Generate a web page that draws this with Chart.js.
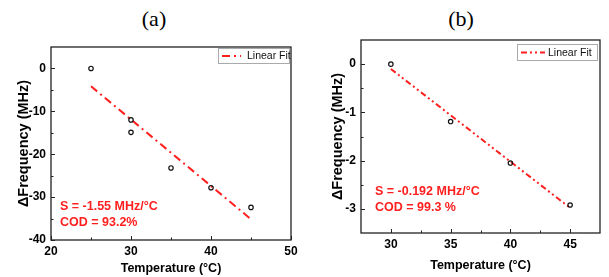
<!DOCTYPE html>
<html>
<head>
<meta charset="utf-8">
<script src="https://cdn.jsdelivr.net/npm/chart.js@4"></script>
<style>
  body { margin: 0; background: #fff; }
  #wrap { position: relative; width: 609px; height: 277px; overflow: hidden; }
  .panel { position: absolute; top: 0; height: 277px; }
  .lbl { position: absolute; top: 6px; font: 22px "Liberation Serif", "Times New Roman", serif; color: #000; transform: translateX(-50%); }
</style>
</head>
<body>
<div id="wrap">
  <div class="lbl" style="left:154px">(a)</div>
  <div class="lbl" style="left:461px">(b)</div>
  <div class="panel" style="left:0;width:305px"><canvas id="chartA" width="305" height="277"></canvas></div>
  <div class="panel" style="left:305px;width:304px"><canvas id="chartB" width="304" height="277"></canvas></div>
</div>
<script>
// panel (a)
const tempA = [25, 30, 30, 35, 40, 45];
const freqA = [0, -12, -14.9, -23.2, -27.8, -32.4];
const fitXA = [25, 45];
const fitYA = [-4.15, -35.15];
const xTicksA = [20, 30, 40, 50];
const xMinorA = [25, 35, 45];
const yTicksA = [0, -10, -20, -30, -40];
const yMinorA = [-5, -15, -25, -35];
const noteA = ["S = -1.55 MHz/°C", "COD = 93.2%"];

// panel (b)
const tempB = [30, 35, 40, 45];
const freqB = [0, -1.19, -2.05, -2.92];
const fitXB = [30, 45];
const fitYB = [-0.1, -2.98];
const xTicksB = [30, 35, 40, 45];
const xMinorB = [32.5, 37.5, 42.5];
const yTicksB = [0, -1, -2, -3];
const yMinorB = [-0.5, -1.5, -2.5];
const noteB = ["S = -0.192 MHz/°C", "COD = 99.3 %"];

Chart.defaults.font.family = '"Liberation Sans", Arial, sans-serif';
Chart.defaults.color = "#000";

const RED = "#ff1f1f";

// frame, inward ticks, legend and the red notes
const extras = {
  id: "extras",
  afterDraw(chart, args, o) {
    const ctx = chart.ctx;
    const a = chart.chartArea;
    const xs = chart.scales.x, ys = chart.scales.y;
    ctx.save();
    ctx.strokeStyle = "#222";
    ctx.lineWidth = 1.3;
    ctx.strokeRect(a.left, a.top, a.right - a.left, a.bottom - a.top);
    ctx.lineWidth = 1;
    ctx.beginPath();
    o.xMajor.forEach(v => { const p = Math.round(xs.getPixelForValue(v)) + 0.5; ctx.moveTo(p, a.bottom); ctx.lineTo(p, a.bottom - 4); });
    o.xMinor.forEach(v => { const p = Math.round(xs.getPixelForValue(v)) + 0.5; ctx.moveTo(p, a.bottom); ctx.lineTo(p, a.bottom - 2.5); });
    o.yMajor.forEach(v => { const p = Math.round(ys.getPixelForValue(v)) + 0.5; ctx.moveTo(a.left, p); ctx.lineTo(a.left + 4, p); });
    o.yMinor.forEach(v => { const p = Math.round(ys.getPixelForValue(v)) + 0.5; ctx.moveTo(a.left, p); ctx.lineTo(a.left + 2.5, p); });
    ctx.stroke();

    // legend
    const lg = o.legend;
    ctx.strokeStyle = "#aaa";
    ctx.lineWidth = 1;
    ctx.strokeRect(lg.x + 0.5, lg.y + 0.5, lg.w, lg.h);
    const ds = chart.data.datasets[1];
    ctx.strokeStyle = ds.borderColor;
    ctx.lineWidth = 2;
    ctx.setLineDash(ds.borderDash);
    ctx.beginPath();
    ctx.moveTo(lg.x + 4, lg.y + lg.h / 2 + 0.5);
    ctx.lineTo(lg.x + 4 + lg.sample, lg.y + lg.h / 2 + 0.5);
    ctx.stroke();
    ctx.setLineDash([]);
    ctx.fillStyle = "#111";
    ctx.font = '10.5px "Liberation Sans", Arial, sans-serif';
    ctx.textBaseline = "middle";
    ctx.fillText(ds.label, lg.x + 6 + lg.sample + lg.gap, lg.y + lg.h / 2 + 1);

    // notes
    ctx.fillStyle = RED;
    ctx.font = 'bold 12.5px "Liberation Sans", Arial, sans-serif';
    o.note.forEach((t, i) => ctx.fillText(t, o.noteX, o.noteY + i * 15.5));
    ctx.restore();
  }
};

function makeChart(id, d) {
  new Chart(document.getElementById(id), {
    type: "scatter",
    data: {
      datasets: [
        {
          label: "data",
          data: d.tx.map((t, i) => ({ x: t, y: d.fy[i] })),
          pointRadius: 2.2,
          pointBorderWidth: 1.2,
          pointBorderColor: "#111",
          pointBackgroundColor: "rgba(0,0,0,0)",
          showLine: false,
        },
        {
          label: "Linear Fit",
          data: d.fx.map((t, i) => ({ x: t, y: d.fitY[i] })),
          showLine: true,
          borderColor: RED,
          borderWidth: 2,
          borderDash: d.dash,
          pointRadius: 0,
        },
      ],
    },
    options: {
      responsive: false,
      animation: false,
      events: [],
      layout: { padding: { top: d.top, right: d.right, left: 0, bottom: 0 } },
      plugins: {
        legend: { display: false },
        tooltip: { enabled: false },
        extras: d.extras,
      },
      scales: {
        x: {
          type: "linear",
          min: d.xMin,
          max: d.xMax,
          afterBuildTicks: (s) => { s.ticks = d.xTicks.map(v => ({ value: v })); },
          afterFit: (s) => { s.height = d.xH; },
          grid: { display: false, drawTicks: false, tickLength: 0 },
          border: { display: false },
          ticks: { font: { size: 12, weight: "bold" }, padding: 4, maxRotation: 0 },
          title: {
            display: true,
            text: "Temperature (°C)",
            font: { size: 12.5, weight: "bold" },
            padding: { top: 0, bottom: d.xTitlePad },
          },
        },
        y: {
          type: "linear",
          min: d.yMin,
          max: d.yMax,
          afterBuildTicks: (s) => { s.ticks = d.yTicks.map(v => ({ value: v })); },
          afterFit: (s) => { s.width = d.yW; },
          grid: { display: false, drawTicks: false, tickLength: 0 },
          border: { display: false },
          ticks: { font: { size: 12, weight: "bold" }, padding: 5 },
          title: {
            display: true,
            text: "ΔFrequency (MHz)",
            font: { size: 14.5, weight: "bold" },
            padding: { top: d.yTitlePad, bottom: 0 },
          },
        },
      },
    },
    plugins: [extras],
  });
}

makeChart("chartA", {
  tx: tempA, fy: freqA, fx: fitXA, fitY: fitYA,
  dash: [8, 4, 2, 4],
  xMin: 20, xMax: 50, yMin: -40, yMax: 5,
  xTicks: xTicksA, yTicks: yTicksA,
  top: 47, right: 14, xH: 37, yW: 51, xTitlePad: 1, yTitlePad: 15,
  extras: {
    xMajor: xTicksA, xMinor: xMinorA, yMajor: yTicksA, yMinor: yMinorA,
    legend: { x: 218, y: 48, w: 71, h: 15, sample: 19, gap: 4 },
    note: noteA, noteX: 60, noteY: 207,
  },
});

makeChart("chartB", {
  tx: tempB, fy: freqB, fx: fitXB, fitY: fitYB,
  dash: [6, 3, 2, 3, 2, 3],
  xMin: 27.5, xMax: 47.5, yMin: -3.5, yMax: 0.5,
  xTicks: xTicksB, yTicks: yTicksB,
  top: 40, right: 9, xH: 44, yW: 56, xTitlePad: 4, yTitlePad: 24,
  extras: {
    xMajor: xTicksB, xMinor: xMinorB, yMajor: yTicksB, yMinor: yMinorB,
    legend: { x: 212, y: 44, w: 80, h: 16, sample: 24, gap: 1 },
    note: noteB, noteX: 70, noteY: 192,
  },
});
</script>
</body>
</html>
